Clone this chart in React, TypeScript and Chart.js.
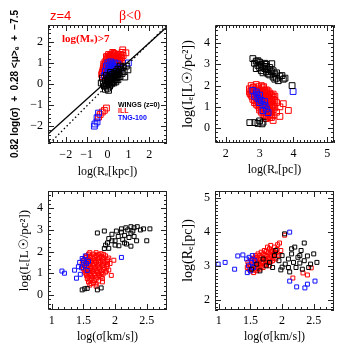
import React, { useEffect, useRef } from 'react';
import { Chart, registerables } from 'chart.js';

Chart.register(...registerables);

type Pt = [number, number];

// ---------- Panel 1: log(Re[kpc]) vs 0.82 log(sigma) + 0.28 <mu>e - 7.5 ----------
const p1Wings: Pt[] = [
  [-0.24, 0.28], [0, -0.2], [0.98, 0.67], [0.83, 0.33], [-0.2, 0.0], [-0.15, -0.1], [-0.1, 0.15],
  [-0.05, -0.05], [0, 0.2], [0.05, 0.05], [0.08, 0.35], [0.1, -0.1], [0.12, 0.15], [0.15, 0.3],
  [0.18, 0.0], [0.2, 0.2], [0.22, 0.45], [0.25, 0.1], [0.28, 0.3], [0.3, 0.05], [0.32, 0.5],
  [0.35, 0.2], [0.38, 0.4], [0.4, 0.1], [0.42, 0.6], [0.45, 0.3], [0.48, 0.45], [0.5, 0.2],
  [0.55, 0.55], [0.6, 0.35], [0.65, 0.7], [0.7, 0.5], [0.75, 0.8], [0.8, 0.6], [-0.3, 0.05],
  [-0.1, -0.25], [0.05, -0.3], [0.9, 0.85], [0.6, 0.85], [0.5, 0.7], [0.15, 0.55], [-0.05, 0.4],
  [0.02, 0.1], [0.1, 0.25], [0.2, 0.05], [0.27, 0.38], [0.35, 0.3], [0.42, 0.2],
];
const p1Ill: Pt[] = [
  [-0.25, 0.55], [-0.2, 0.75], [-0.18, 0.95], [-0.15, 0.6], [-0.12, 1.05], [-0.1, 0.8], [-0.08, 0.5],
  [-0.05, 1.15], [-0.03, 0.9], [0, 0.7], [0.02, 1.2], [0.03, 1.0], [0.05, 0.55], [0.07, 0.85],
  [0.08, 1.3], [0.1, 1.1], [0.12, 0.65], [0.13, 0.95], [0.15, 1.25], [0.17, 0.78], [0.18, 1.4],
  [0.2, 1.05], [0.22, 0.6], [0.23, 1.3], [0.25, 0.9], [0.27, 1.18], [0.28, 0.72], [0.3, 1.35],
  [0.32, 1.0], [0.34, 0.85], [0.35, 1.2], [0.38, 1.42], [0.4, 0.95], [0.42, 1.1], [0.45, 1.3],
  [0.47, 0.8], [0.5, 1.15], [0.52, 1.4], [0.55, 1.0], [0.6, 1.25], [0.65, 1.1], [0.7, 1.5],
  [0.75, 1.35], [0.88, 1.48], [0.73, 1.62], [-0.22, 0.35], [-0.28, 0.45], [0.0, 0.4], [0.1, 0.45],
  [0.05, 1.4], [-0.05, 1.3], [0.25, 1.5], [0.15, 0.5], [0.35, 0.6], [0.45, 0.65],
  [-0.22, 0.65], [-0.17, 0.85], [-0.13, 0.7], [-0.1, 0.95], [-0.07, 0.6], [-0.02, 0.8], [0.0, 1.05],
  [0.04, 0.9], [0.06, 0.62], [0.1, 0.75], [0.11, 1.2], [0.14, 0.85], [0.16, 1.12], [0.2, 0.7],
  [0.21, 0.95], [0.24, 1.2], [0.26, 0.8], [0.3, 1.1], [0.31, 0.9], [0.36, 1.05], [0.37, 0.75],
  [0.4, 1.25], [0.44, 0.9], [0.46, 1.05], [0.5, 1.3], [0.55, 1.2], [0.58, 1.1], [0.62, 1.4],
  [0.68, 1.25], [0.3, 1.45], [0.12, 1.35], [-0.02, 1.25],
  [-0.25, -1.33], [-0.05, -1.14], [-0.43, -1.57], [-0.15, -1.25], [-0.35, -1.45],
];
const p1Tng: Pt[] = [
  [-0.15, 0.4], [-0.1, 0.6], [-0.05, 0.85], [0, 0.5], [0.02, 1.0], [0.05, 0.7], [0.08, 0.35],
  [0.1, 0.9], [0.12, 0.55], [0.15, 1.05], [0.18, 0.75], [0.2, 0.45], [0.22, 0.95], [0.25, 0.6],
  [0.28, 0.85], [0.3, 0.3], [0.32, 0.7], [0.35, 1.0], [0.38, 0.5], [0.42, 0.8], [0.45, 0.6],
  [0.5, 0.95], [1.0, 1.0], [0.6, 0.75],
  [-0.5, -1.8], [-0.63, -2.0], [-0.43, -1.38], [-0.5, -1.6], [-0.6, -1.9],
];
const p1FitLine: Pt[] = [[-2.9, -2.42], [2.9, 2.76]];
const p1OneToOne: Pt[] = [[-2.9, -2.95], [2.9, 2.85]];
const p1XTicks = [-2, -1, 0, 1, 2];
const p1YTicks = [-2, -1, 0, 1, 2];

// ---------- Panel 2: log(Re[pc]) vs log(Ie) ----------
const p2Wings: Pt[] = [
  [2.8, 3.27], [2.85, 3.05], [2.9, 3.15], [2.95, 3.17], [2.95, 2.95], [3.0, 3.1], [3.0, 2.85],
  [3.05, 3.0], [3.05, 2.7], [3.1, 2.6], [3.1, 2.9], [3.15, 2.8], [3.15, 3.05], [3.2, 2.65],
  [3.2, 2.9], [3.25, 2.55], [3.25, 2.75], [3.3, 2.85], [3.3, 2.5], [3.36, 3.03], [3.35, 2.65],
  [3.4, 2.4], [3.4, 2.7], [3.45, 2.55], [3.5, 2.35], [3.5, 2.6], [3.55, 2.23], [3.6, 2.45],
  [3.66, 2.47], [3.7, 2.3], [3.75, 2.35], [3.96, 2.0], [2.9, 2.8], [3.2, 3.0], [3.45, 2.3],
  [2.71, 0.26], [2.86, 0.26], [3.07, 0.2], [3.0, 0.34], [3.1, 0.28], [2.95, 0.22],
];
const p2Ill: Pt[] = [
  [2.75, 2.0], [2.9, 2.05], [3.05, 2.0],
  [2.7, 1.85], [2.8, 1.9], [2.95, 1.85], [3.1, 1.9], [3.2, 1.8],
  [2.7, 1.7], [2.8, 1.7], [2.9, 1.75], [3.0, 1.7], [3.1, 1.65], [3.2, 1.7], [3.3, 1.65],
  [2.75, 1.55], [2.85, 1.5], [2.95, 1.55], [3.05, 1.5], [3.15, 1.55], [3.25, 1.5], [3.35, 1.55], [3.45, 1.5],
  [2.8, 1.35], [2.9, 1.4], [3.0, 1.35], [3.1, 1.4], [3.2, 1.35], [3.3, 1.4], [3.4, 1.35],
  [2.85, 1.2], [2.95, 1.25], [3.05, 1.2], [3.15, 1.15], [3.25, 1.2], [3.35, 1.25], [3.5, 1.2], [3.7, 1.15],
  [2.95, 1.05], [3.05, 1.0], [3.15, 0.95], [3.25, 1.05], [3.35, 1.0], [3.45, 0.95], [3.6, 1.0],
  [3.0, 0.85], [3.1, 0.8], [3.2, 0.85], [3.3, 0.8], [3.4, 0.85], [3.85, 0.83],
  [3.1, 0.65], [3.2, 0.6], [3.3, 0.65], [3.4, 0.6], [3.6, 0.55],
  [3.2, 0.45], [3.3, 0.5], [3.4, 0.36], [3.5, 0.75],
  [2.82, 1.93], [2.97, 1.95], [3.12, 1.95],
  [2.75, 1.78], [2.85, 1.8], [2.95, 1.78], [3.05, 1.8], [3.15, 1.77], [3.25, 1.75],
  [2.72, 1.62], [2.8, 1.62], [2.9, 1.63], [3.0, 1.62], [3.1, 1.6], [3.2, 1.62], [3.3, 1.58], [3.4, 1.6],
  [2.78, 1.47], [2.9, 1.47], [3.0, 1.45], [3.1, 1.47], [3.2, 1.45], [3.3, 1.47], [3.4, 1.45],
  [2.85, 1.3], [2.95, 1.32], [3.05, 1.28], [3.15, 1.3], [3.25, 1.28], [3.35, 1.32], [3.45, 1.3],
  [2.9, 1.12], [3.0, 1.12], [3.1, 1.1], [3.2, 1.12], [3.3, 1.1], [3.4, 1.12],
  [3.0, 0.95], [3.1, 0.93], [3.2, 0.95], [3.3, 0.92], [3.4, 1.05],
  [3.05, 0.75], [3.15, 0.72], [3.25, 0.75], [3.35, 0.72],
  [3.15, 0.55], [3.25, 0.55], [3.35, 0.5],
];
const p2Tng: Pt[] = [
  [2.8, 1.77], [2.92, 1.6], [3.16, 1.06], [3.1, 0.82], [3.25, 0.73], [3.0, 1.2], [2.85, 1.5],
  [2.95, 1.4], [3.05, 1.3], [3.1, 1.1], [3.2, 0.9], [2.9, 1.7], [3.99, 1.72], [3.15, 1.25], [3.0, 1.55],
];
const p2XTicks = [2, 3, 4, 5];
const p2YTicks = [0, 1, 2, 3, 4];

// ---------- Panel 3: log(sigma) vs log(Ie) ----------
const p3Wings: Pt[] = [
  [1.72, 2.86], [1.83, 2.95], [2.17, 3.1], [2.3, 3.1], [2.4, 3.0], [2.34, 2.5], [1.88, 2.4],
  [1.83, 2.14], [2.06, 2.27], [1.9, 2.6], [1.95, 2.8], [2.0, 2.5], [2.02, 2.95], [2.05, 2.7],
  [2.1, 2.9], [2.12, 2.55], [2.15, 2.75], [2.18, 2.35], [2.2, 3.0], [2.22, 2.65], [2.25, 2.85],
  [2.28, 2.95], [2.3, 2.7], [2.35, 3.15], [2.25, 3.15], [2.45, 3.05], [2.5, 2.5], [2.1, 3.05],
  [1.85, 2.3], [1.9, 2.15], [2.0, 2.3], [2.15, 2.4], [2.55, 3.05], [1.95, 2.5], [2.25, 2.25],
  [1.48, 0.23], [1.56, 0.3], [1.72, 0.23], [1.78, 0.32], [1.52, 0.28],
];
const p3Ill: Pt[] = [
  [1.6, 1.95], [1.7, 1.95], [1.78, 1.9],
  [1.55, 1.8], [1.62, 1.8], [1.7, 1.82], [1.78, 1.78], [1.85, 1.8],
  [1.52, 1.65], [1.58, 1.65], [1.65, 1.68], [1.72, 1.65], [1.8, 1.65], [1.88, 1.62], [1.98, 1.6],
  [1.5, 1.5], [1.56, 1.5], [1.63, 1.52], [1.7, 1.5], [1.77, 1.5], [1.84, 1.48], [1.92, 1.45],
  [1.52, 1.35], [1.58, 1.35], [1.65, 1.37], [1.72, 1.35], [1.8, 1.35], [1.87, 1.3],
  [1.5, 1.2], [1.56, 1.2], [1.62, 1.22], [1.68, 1.2], [1.75, 1.2], [1.82, 1.18], [1.9, 1.15],
  [1.52, 1.05], [1.58, 1.05], [1.65, 1.07], [1.72, 1.05], [1.78, 1.0], [1.85, 1.05],
  [1.55, 0.9], [1.62, 0.9], [1.68, 0.92], [1.75, 0.9], [1.94, 0.9],
  [1.56, 0.75], [1.63, 0.75], [1.7, 0.72], [1.8, 0.75],
  [1.58, 0.6], [1.66, 0.55], [1.8, 0.6],
  [1.6, 0.45], [1.7, 0.4],
  [1.58, 1.88], [1.66, 1.88], [1.74, 1.87], [1.82, 1.86],
  [1.54, 1.73], [1.61, 1.73], [1.68, 1.74], [1.75, 1.72], [1.82, 1.72], [1.9, 1.7],
  [1.49, 1.58], [1.55, 1.58], [1.61, 1.59], [1.68, 1.58], [1.74, 1.57], [1.81, 1.56], [1.88, 1.55],
  [1.48, 1.43], [1.54, 1.43], [1.6, 1.44], [1.67, 1.43], [1.74, 1.42], [1.81, 1.42], [1.88, 1.4],
  [1.49, 1.28], [1.55, 1.28], [1.61, 1.29], [1.68, 1.28], [1.75, 1.27], [1.83, 1.26],
  [1.53, 1.12], [1.59, 1.13], [1.65, 1.14], [1.71, 1.12], [1.78, 1.12], [1.86, 1.1],
  [1.54, 0.98], [1.6, 0.98], [1.67, 0.99], [1.74, 0.97], [1.81, 0.96],
  [1.57, 0.83], [1.64, 0.83], [1.71, 0.82], [1.78, 0.84],
  [1.6, 0.68], [1.67, 0.66], [1.74, 0.64],
  [1.62, 0.52], [1.7, 0.5],
];
const p3Tng: Pt[] = [
  [1.16, 1.1], [1.2, 1.0], [1.36, 1.14], [1.39, 0.77], [1.44, 1.5], [1.48, 1.68], [1.55, 1.45],
  [1.56, 1.13], [2.1, 1.73], [1.47, 1.25], [1.5, 1.6], [1.52, 1.35], [1.45, 0.95], [1.42, 1.3],
  [1.53, 1.8], [1.58, 1.55],
];
const p3XTicks = [1, 1.5, 2, 2.5];
const p3YTicks = [0, 1, 2, 3, 4];

// ---------- Panel 4: log(sigma) vs log(Re[pc]) ----------
const p4Wings: Pt[] = [
  [2.04, 3.94], [2.35, 3.67], [2.2, 3.55], [2.4, 3.29], [2.28, 3.08], [2.12, 2.82], [2.0, 2.96],
  [1.88, 3.3], [1.8, 3.1], [1.85, 2.95], [1.9, 3.45], [1.95, 3.15], [2.0, 3.3], [2.05, 3.05],
  [2.1, 3.2], [2.1, 2.95], [2.15, 3.35], [2.18, 3.1], [2.22, 2.95], [2.25, 3.25], [2.3, 3.45],
  [2.32, 2.9], [2.35, 3.15], [2.45, 3.05], [2.5, 3.35], [2.55, 3.1], [1.75, 3.0], [1.7, 3.2],
  [1.6, 3.05], [1.52, 2.9], [1.65, 2.85], [2.42, 2.95], [2.28, 3.3], [1.98, 2.88], [2.15, 3.5],
];
const p4Ill: Pt[] = [
  [1.45, 2.95], [1.46, 3.1],
  [1.5, 2.85], [1.5, 3.0], [1.51, 3.15],
  [1.55, 2.8], [1.55, 2.95], [1.56, 3.08], [1.56, 3.22],
  [1.6, 2.85], [1.6, 3.0], [1.61, 3.12], [1.6, 3.25],
  [1.65, 2.9], [1.65, 3.05], [1.66, 3.18], [1.65, 3.3],
  [1.7, 2.95], [1.7, 3.1], [1.71, 3.22], [1.7, 3.35],
  [1.75, 3.05], [1.75, 3.15], [1.76, 3.28], [1.75, 3.42],
  [1.8, 3.0], [1.8, 3.2], [1.81, 3.35], [1.8, 3.5],
  [1.85, 3.15], [1.86, 3.3], [1.85, 3.45],
  [1.9, 3.2], [1.9, 3.38], [1.88, 3.55],
  [1.96, 3.67], [1.95, 3.3], [2.04, 3.9],
  [1.47, 3.03], [1.48, 2.9], [1.52, 3.08], [1.53, 2.92], [1.53, 3.22], [1.57, 2.87], [1.58, 3.02],
  [1.58, 3.16], [1.58, 3.3], [1.62, 2.92], [1.63, 3.06], [1.63, 3.2], [1.62, 3.35], [1.67, 2.97],
  [1.68, 3.12], [1.68, 3.25], [1.67, 3.4], [1.72, 3.02], [1.73, 3.17], [1.73, 3.3], [1.72, 3.45],
  [1.77, 3.1], [1.78, 3.22], [1.78, 3.38], [1.77, 3.55], [1.82, 3.12], [1.83, 3.28], [1.83, 3.42],
  [1.82, 3.6], [1.87, 3.22], [1.88, 3.4], [1.92, 3.3], [1.92, 3.48], [1.98, 3.45], [1.93, 3.62],
  [2.46, 2.94], [2.33, 2.79], [2.4, 2.73], [2.17, 2.64],
];
const p4Tng: Pt[] = [
  [0.99, 3.05], [1.1, 3.1], [1.3, 3.29], [1.38, 3.32], [1.25, 2.9], [1.44, 3.2], [1.47, 3.0],
  [1.5, 2.85], [1.52, 3.1], [1.55, 2.95], [1.48, 3.25], [1.57, 3.15], [1.45, 2.8], [1.53, 3.3],
  [2.12, 3.99], [2.12, 2.55], [2.23, 2.38], [2.36, 2.35], [2.4, 2.46], [2.52, 2.55],
];
const p4XTicks = [1, 1.5, 2, 2.5];
const p4YTicks = [2, 3, 4, 5];

// ---------- labels ----------
const legendEntries: [string, string][] = [
  ['WINGS (z=0)', '#000000'],
  ['ILL', '#ff0000'],
  ['TNG-100', '#0000ff'],
];

const RED = '#ff0000';
const BLUE = '#1010ff';
const BLACK = '#000000';
const SERIF = '"Liberation Serif", "DejaVu Serif", serif';
const SANS = '"Liberation Sans", "DejaVu Sans", sans-serif';

const toXY = (pts: Pt[]) => pts.map(([x, y]) => ({ x, y }));

const fmt = (v: number) => {
  const s = String(Math.abs(v));
  return v < 0 ? '\u2212' + s : s;
};

const framePlugin = {
  id: 'frame',
  afterDatasetsDraw(chart: any, _args: any, opts: any) {
    const { ctx, chartArea: a, scales } = chart;
    const x = scales.x;
    const y = scales.y;
    ctx.save();
    ctx.strokeStyle = '#222';
    ctx.lineWidth = 1;
    ctx.beginPath();
    ctx.rect(a.left + 0.5, a.top + 0.5, a.right - a.left - 1, a.bottom - a.top - 1);
    const isMajor = (v: number, majors: number[]) => majors.some((m) => Math.abs(m - v) < 1e-6);
    const drawAxis = (scale: any, step: number, majors: number[], horizontal: boolean) => {
      const k0 = Math.ceil(scale.min / step - 1e-9);
      const k1 = Math.floor(scale.max / step + 1e-9);
      for (let k = k0; k <= k1; k++) {
        const v = k * step;
        const len = isMajor(v, majors) ? 6 : 3;
        const p = Math.round(scale.getPixelForValue(v)) + 0.5;
        if (horizontal) {
          ctx.moveTo(p, a.bottom);
          ctx.lineTo(p, a.bottom - len);
          ctx.moveTo(p, a.top);
          ctx.lineTo(p, a.top + len);
        } else {
          ctx.moveTo(a.left, p);
          ctx.lineTo(a.left + len, p);
          ctx.moveTo(a.right, p);
          ctx.lineTo(a.right - len, p);
        }
      }
    };
    drawAxis(x, opts.xMinor, opts.xMajor, true);
    drawAxis(y, opts.yMinor, opts.yMajor, false);
    ctx.stroke();
    ctx.restore();
  },
};

const annotPlugin = {
  id: 'annot',
  afterDraw(chart: any, _args: any, opts: any) {
    if (!opts || !opts.on) return;
    const { ctx } = chart;
    ctx.save();
    ctx.textBaseline = 'alphabetic';
    ctx.fillStyle = RED;
    ctx.font = `13px ${SANS}`;
    ctx.fillText('z=4', 50, 20);
    ctx.font = `14px ${SERIF}`;
    ctx.fillText('\u03B2<0', 119, 20);
    // log(M*)>7 with subscript
    ctx.font = `bold 11px ${SERIF}`;
    let xx = 62;
    ctx.fillText('log(M', xx, 42);
    xx += ctx.measureText('log(M').width;
    ctx.font = `bold 8px ${SERIF}`;
    ctx.fillText('*', xx, 45);
    xx += ctx.measureText('*').width;
    ctx.font = `bold 11px ${SERIF}`;
    ctx.fillText(')>7', xx, 42);
    ctx.font = `bold 7px ${SANS}`;
    legendEntries.forEach(([t, c], i) => {
      ctx.fillStyle = c;
      ctx.fillText(t, 118, 107 + i * 6.3);
    });
    ctx.restore();
  },
};

interface Spec {
  left: number; top: number; w: number; h: number;
  padTop: number; padRight: number; yW: number; xH: number;
  xMin: number; xMax: number; yMin: number; yMax: number;
  xTicks: number[]; yTicks: number[]; xMinor: number; yMinor: number;
  xTitle: string; yTitle: string; xTitleFont: any; yTitleFont: any;
  xTitlePad: number; yTitlePad: number; xTickPad: number; yTickPad: number;
  wings: Pt[]; ill: Pt[]; tng: Pt[]; radius: number; lines?: boolean; annot?: boolean;
}

function Panel({ s }: { s: Spec }) {
  const ref = useRef<HTMLCanvasElement | null>(null);
  useEffect(() => {
    if (!ref.current) return;
    const pt = (data: Pt[], color: string, order: number) => ({
      data: toXY(data),
      pointStyle: 'rect',
      pointRadius: s.radius,
      pointBorderWidth: 1,
      pointBorderColor: color,
      pointBackgroundColor: 'rgba(0,0,0,0)',
      borderColor: color,
      backgroundColor: 'rgba(0,0,0,0)',
      showLine: false,
      order,
    });
    const datasets: any[] = [pt(s.wings, BLACK, 2), pt(s.tng, BLUE, 3), pt(s.ill, RED, 4)];
    if (s.lines) {
      datasets.push({
        data: toXY(p1FitLine), showLine: true, pointRadius: 0, borderColor: BLACK, borderWidth: 1.3, order: 0,
      });
      datasets.push({
        data: toXY(p1OneToOne), showLine: true, pointRadius: 0, borderColor: BLACK, borderWidth: 1.3,
        borderDash: [1.5, 2.5], order: 1,
      });
    }
    const tickFont = { family: SERIF, size: 12, lineHeight: 1.2 };
    const chart = new Chart(ref.current, {
      type: 'scatter',
      data: { datasets },
      options: {
        animation: false,
        responsive: false,
        devicePixelRatio: 1,
        layout: { padding: { left: 0, top: s.padTop, right: s.padRight, bottom: 0 } },
        plugins: {
          legend: { display: false },
          tooltip: { enabled: false },
          frame: { xMajor: s.xTicks, yMajor: s.yTicks, xMinor: s.xMinor, yMinor: s.yMinor },
          annot: { on: !!s.annot },
        } as any,
        scales: {
          x: {
            type: 'linear', position: 'bottom', min: s.xMin, max: s.xMax,
            grid: { display: false, drawTicks: false },
            border: { display: false },
            ticks: { padding: s.xTickPad, font: tickFont, color: '#000', autoSkip: false, maxRotation: 0,
              callback: (v: any) => fmt(Number(v)) },
            afterBuildTicks: (sc: any) => { sc.ticks = s.xTicks.map((v) => ({ value: v })); },
            afterFit: (sc: any) => { sc.height = s.xH; },
            title: { display: true, text: s.xTitle, color: '#000', font: s.xTitleFont,
              padding: { top: 0, bottom: s.xTitlePad } },
          },
          y: {
            type: 'linear', position: 'left', min: s.yMin, max: s.yMax,
            grid: { display: false, drawTicks: false },
            border: { display: false },
            ticks: { padding: s.yTickPad, font: tickFont, color: '#000', autoSkip: false,
              callback: (v: any) => fmt(Number(v)) },
            afterBuildTicks: (sc: any) => { sc.ticks = s.yTicks.map((v) => ({ value: v })); },
            afterFit: (sc: any) => { sc.width = s.yW; },
            title: { display: true, text: s.yTitle, color: '#000', font: s.yTitleFont,
              padding: { top: s.yTitlePad, bottom: 0 } },
          },
        },
      } as any,
      plugins: [framePlugin, annotPlugin],
    });
    return () => chart.destroy();
  }, []);
  return (
    <div style={{ position: 'absolute', left: s.left, top: s.top, width: s.w, height: s.h }}>
      <canvas ref={ref} width={s.w} height={s.h} style={{ width: s.w, height: s.h, display: 'block' }} />
    </div>
  );
}

const xTitleFont = { family: SERIF, size: 12, lineHeight: 1 };

const specs: Spec[] = [
  {
    left: 0, top: 0, w: 175, h: 178, padTop: 25, padRight: 8, yW: 48, xH: 35,
    xMin: -2.85, xMax: 2.85, yMin: -2.8, yMax: 2.8, xTicks: p1XTicks, yTicks: p1YTicks, xMinor: 0.2, yMinor: 0.2,
    xTitle: 'log(R\u2091[kpc])', yTitle: '0.82 log(\u03C3)  +  0.28 <\u03BC>\u2091  +  \u22127.5',
    xTitleFont, yTitleFont: { family: SANS, size: 10, weight: 'bold', lineHeight: 1 },
    xTitlePad: 0, yTitlePad: 10, xTickPad: 5, yTickPad: 5,
    wings: p1Wings, ill: p1Ill, tng: p1Tng, radius: 4.1, lines: true, annot: true,
  },
  {
    left: 175, top: 0, w: 175, h: 178, padTop: 25, padRight: 16, yW: 40, xH: 35,
    xMin: 1.68, xMax: 5.2, yMin: -0.7, yMax: 4.85, xTicks: p2XTicks, yTicks: p2YTicks, xMinor: 0.1, yMinor: 0.2,
    xTitle: 'log(R\u2091[pc])', yTitle: 'log(I\u2091[L\u2609/pc\u00B2])',
    xTitleFont, yTitleFont: { family: SERIF, size: 14, lineHeight: 1 },
    xTitlePad: 2, yTitlePad: 6, xTickPad: 4, yTickPad: 5,
    wings: p2Wings, ill: p2Ill, tng: p2Tng, radius: 4.1,
  },
  {
    left: 0, top: 178, w: 175, h: 177, padTop: 13, padRight: 8, yW: 48, xH: 45,
    xMin: 0.94, xMax: 2.82, yMin: -0.7, yMax: 4.8, xTicks: p3XTicks, yTicks: p3YTicks, xMinor: 0.1, yMinor: 0.2,
    xTitle: 'log(\u03C3[km/s])', yTitle: 'log(I\u2091[L\u2609/pc\u00B2])',
    xTitleFont, yTitleFont: { family: SERIF, size: 13, lineHeight: 1 },
    xTitlePad: 12, yTitlePad: 18.5, xTickPad: 4, yTickPad: 5,
    wings: p3Wings, ill: p3Ill, tng: p3Tng, radius: 2.8,
  },
  {
    left: 175, top: 178, w: 175, h: 177, padTop: 13, padRight: 16, yW: 40, xH: 45,
    xMin: 0.94, xMax: 2.82, yMin: 1.7, yMax: 5.2, xTicks: p4XTicks, yTicks: p4YTicks, xMinor: 0.1, yMinor: 0.1,
    xTitle: 'log(\u03C3[km/s])', yTitle: 'log(R\u2091[pc])',
    xTitleFont, yTitleFont: { family: SERIF, size: 14, lineHeight: 1 },
    xTitlePad: 12, yTitlePad: 6, xTickPad: 4, yTickPad: 5,
    wings: p4Wings, ill: p4Ill, tng: p4Tng, radius: 2.8,
  },
];

export default function App() {
  return (
    <div style={{ position: 'absolute', left: 0, top: 0, width: 350, height: 355, background: '#fff', overflow: 'hidden' }}>
      {specs.map((s, i) => (
        <Panel key={i} s={s} />
      ))}
    </div>
  );
}
